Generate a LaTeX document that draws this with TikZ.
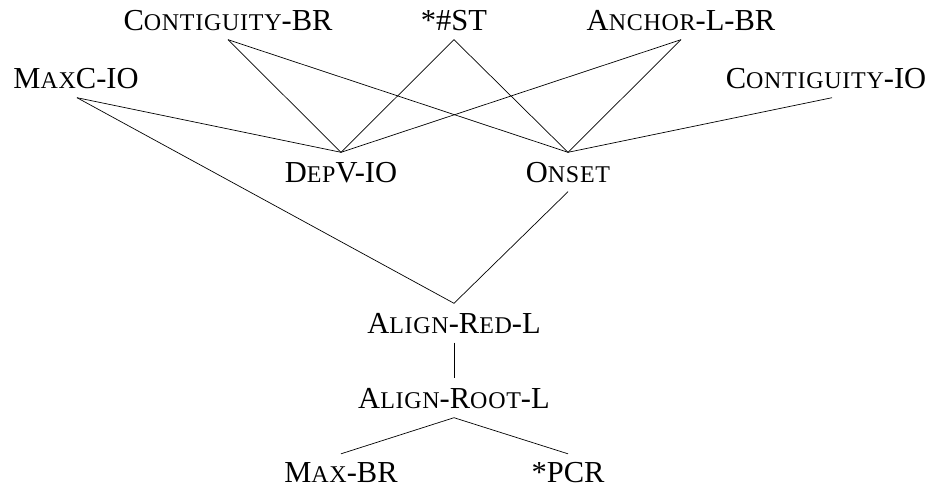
\documentclass[tikz,border=0pt]{standalone}
\usepackage{fontspec}
\setmainfont{Liberation Serif}
\newcommand\mysc[1]{{\fontsize{24pt}{24pt}\selectfont\addfontfeature{LetterSpace=3}#1}}
\tikzset{
  con/.style={font=\fontsize{30.5pt}{30.5pt}\selectfont, inner xsep=0pt, inner ysep=9.5pt,
              text height=20pt, text depth=0pt, anchor=center},
  edge/.style={draw=black, line width=0.7pt}
}
\begin{document}
\begin{tikzpicture}[x=1pt,y=1pt]
\useasboundingbox (0,0) rectangle (935,-488);
\node[con] (cbr) at (228,-20) {C\mysc{ONTIGUITY}-BR};
\node[con] (st) at (454,-20) {*\#ST};
\node[con] (alb) at (681,-20) {A\mysc{NCHOR}-L-BR};
\node[con] (mcio) at (76,-78) {M\mysc{AX}C-IO};
\node[con] (cio) at (826,-78) {C\mysc{ONTIGUITY}-IO};
\node[con] (dep) at (341,-172) {D\mysc{EP}V-IO};
\node[con] (ons) at (568,-172) {O\mysc{NSET}};
\node[con] (ared) at (454,-323) {A\mysc{LIGN}-R\mysc{ED}-L};
\node[con] (aroot) at (454,-398) {A\mysc{LIGN}-R\mysc{OOT}-L};
\node[con] (mbr) at (341,-472) {M\mysc{AX}-BR};
\node[con] (pcr) at (568,-472) {*PCR};
\draw[edge] (cbr.south) -- (dep.north);
\draw[edge] (cbr.south) -- (ons.north);
\draw[edge] (st.south) -- (dep.north);
\draw[edge] (st.south) -- (ons.north);
\draw[edge] (alb.south) -- (dep.north);
\draw[edge] (alb.south) -- (ons.north);
\draw[edge] ([xshift=1pt]mcio.south) -- (dep.north);
\draw[edge] ([xshift=1pt]mcio.south) -- (ared.north);
\draw[edge] ([xshift=6pt]cio.south) -- (ons.north);
\draw[edge] (ons.south) -- (ared.north);
\draw[edge] (ared.south) -- (aroot.north);
\draw[edge] (aroot.south) -- ([yshift=-1.5pt]mbr.north);
\draw[edge] (aroot.south) -- ([yshift=-1.5pt]pcr.north);
\end{tikzpicture}
\end{document}
